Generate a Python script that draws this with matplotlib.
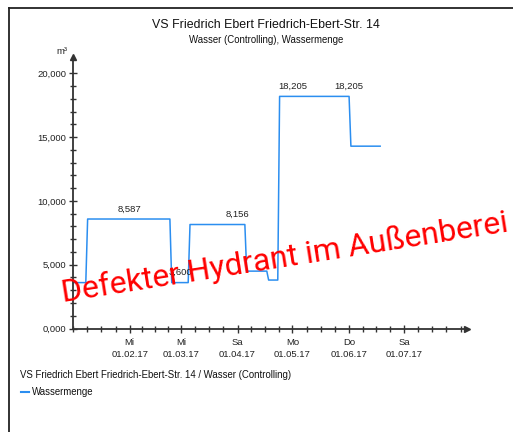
import matplotlib
matplotlib.use("Agg")
import matplotlib.pyplot as plt
from matplotlib.lines import Line2D
import pandas as pd

plt.rcParams['font.family'] = ['Liberation Sans', 'DejaVu Sans']

# daily water volume (m³), given at the days where the level changes
dates = ['2017-01-01', '2017-01-08', '2017-01-09', '2017-02-23', '2017-02-24',
         '2017-03-05', '2017-03-06', '2017-04-05', '2017-04-06', '2017-04-17',
         '2017-04-18', '2017-04-23', '2017-04-24', '2017-06-01', '2017-06-02',
         '2017-06-18']
values = [3600, 3600, 8587, 8587, 3600,
          3600, 8156, 8156, 4500, 4500,
          3800, 3800, 18205, 18205, 14300,
          14300]

label_dates = ['2017-02-01', '2017-03-01', '2017-04-01', '2017-05-01', '2017-06-01']
label_values = [8587, 3600, 8156, 18205, 18205]

tick_dates = ['2017-02-01', '2017-03-01', '2017-04-01', '2017-05-01', '2017-06-01', '2017-07-01']
tick_labels = ['Mi\n01.02.17', 'Mi\n01.03.17', 'Sa\n01.04.17', 'Mo\n01.05.17',
               'Do\n01.06.17', 'Sa\n01.07.17']
y_ticks = [0, 5000, 10000, 15000, 20000]
y_labels = ['0,000', '5,000', '10,000', '15,000', '20,000']

W, H = 513, 432
fig = plt.figure(figsize=(W / 100, H / 100), dpi=100)

# frame (only left and top edges are visible)
fig.add_artist(Line2D([9 / W, 9 / W], [0, 1 - 8 / H], color='#222222', lw=1.3))
fig.add_artist(Line2D([9 / W, 1], [1 - 8 / H, 1 - 8 / H], color='#222222', lw=1.3))

ax = fig.add_axes([73 / W, (H - 328.5) / H, (467 - 73) / W, (328.5 - 57) / H])

x = pd.to_datetime(dates)
ax.plot(x, values, color='#2b8ef0', lw=1.1)

for d, v in zip(label_dates, label_values):
    ax.annotate(f'{v:,}', (pd.Timestamp(d), v), xytext=(0, 4), textcoords='offset points',
                ha='center', va='bottom', fontsize=6.8, color='#222222')

# axes styling
for s in ['top', 'right']:
    ax.spines[s].set_visible(False)
for s in ['left', 'bottom']:
    ax.spines[s].set_color('#333333')
    ax.spines[s].set_linewidth(1.3)
ax.plot([0], [1], marker='^', color='#333333', ms=4.5, transform=ax.transAxes, clip_on=False)
ax.plot([1], [0], marker='>', color='#333333', ms=4.5, transform=ax.transAxes, clip_on=False)

ax.set_yticks(y_ticks)
ax.set_yticklabels(y_labels)
ax.set_yticks(range(0, 21000, 1000), minor=True)
ax.set_xticks(pd.to_datetime(tick_dates))
ax.set_xticklabels(tick_labels, linespacing=1.45)

t0 = pd.Timestamp('2017-01-01')
t1 = t0 + pd.Timedelta(days=215.5)
minor = []
for m in range(1, 9):
    start = pd.Timestamp(2017, m, 1)
    nd = start.days_in_month
    for k in range(4):
        t = start + pd.Timedelta(days=nd * k / 4)
        if t <= t1:
            minor.append(t)
ax.set_xticks(minor, minor=True)

ax.set_xlim(t0, t1)
ax.set_ylim(0, 21294)

ax.tick_params(which='both', direction='inout', color='#333333', width=1.0,
               labelsize=6.8, labelcolor='#222222')
ax.tick_params(which='major', length=6)
ax.tick_params(axis='x', which='major', pad=4)
ax.tick_params(axis='y', which='major', pad=2)
ax.tick_params(which='minor', length=4)

fig.text(62 / W, 1 - 52 / H, 'm³', ha='center', va='center', fontsize=6.8, color='#222222')

# titles
fig.text(266 / W, 1 - 25 / H, 'VS Friedrich Ebert Friedrich-Ebert-Str. 14',
         ha='center', va='center', fontsize=8.9, color='#111111')
fig.text(266 / W, 1 - 40 / H, 'Wasser (Controlling), Wassermenge',
         ha='center', va='center', fontsize=6.9, color='#111111')

# legend
fig.text(20 / W, 1 - 375 / H, 'VS Friedrich Ebert Friedrich-Ebert-Str. 14 / Wasser (Controlling)',
         ha='left', va='center', fontsize=6.9, color='#111111')
fig.add_artist(Line2D([20.5 / W, 28.5 / W], [1 - 392 / H, 1 - 392 / H], color='#2b8ef0', lw=1.5))
fig.text(32 / W, 1 - 392 / H, 'Wassermenge', ha='left', va='center', fontsize=6.9, color='#111111')

# watermark note
fig.text(63 / W, 1 - 302 / H, 'Defekter Hydrant im Außenberei', ha='left', va='baseline',
         rotation=9, rotation_mode='anchor', fontsize=22.9, color='#ff0000',
         family=['Roboto', 'DejaVu Sans'])

fig.savefig('out.png', dpi=100)
